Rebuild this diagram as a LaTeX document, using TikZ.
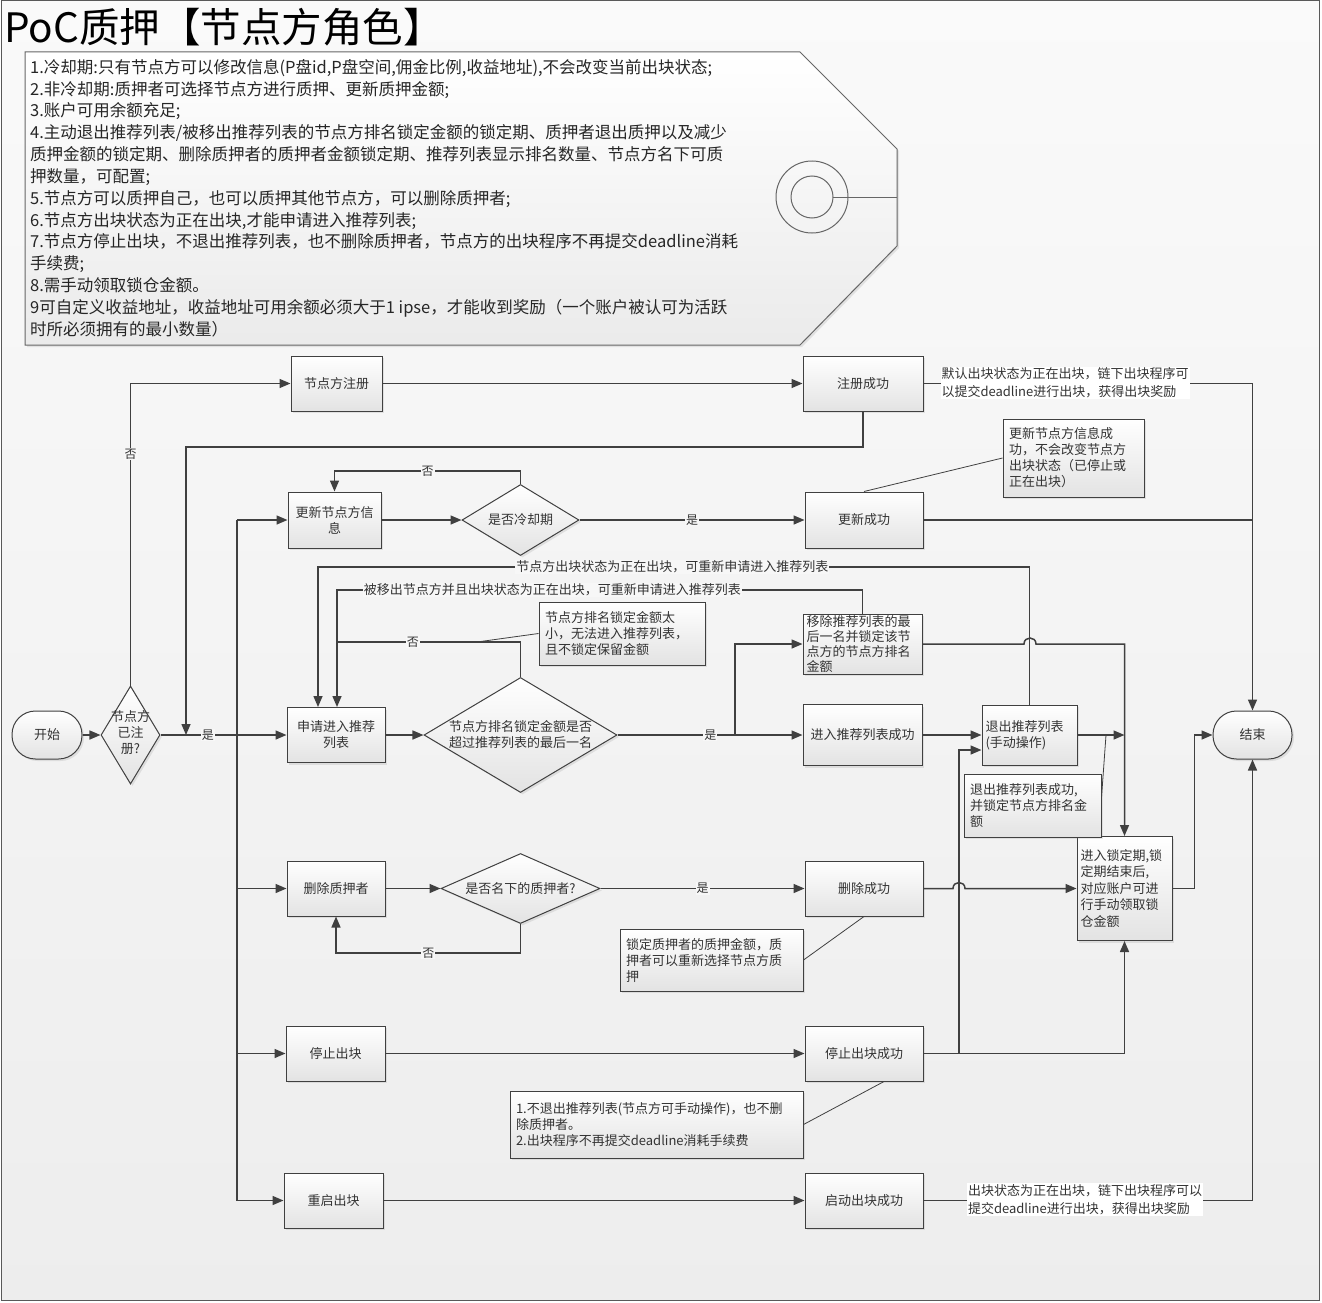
\documentclass[tikz,border=0pt]{standalone}
\usepackage{fontspec}
\setmainfont{Noto Sans CJK SC}
\usetikzlibrary{arrows.meta,shapes.geometric,shadows}
\definecolor{lc}{HTML}{404040}
\definecolor{txt}{HTML}{333333}
\definecolor{bgc}{HTML}{F7F7F7}
\begin{document}
\begin{tikzpicture}[x=1pt,y=-1pt,
  line/.style={draw=lc, line width=1.5pt},
  arr/.style={line, -{Triangle[length=11pt,width=9pt]}},
  thinln/.style={draw=lc, line width=0.8pt},
  shd/.style={drop shadow={shadow xshift=2pt, shadow yshift=-2pt, opacity=0.18}},
  shadefill/.style={top color=white, bottom color=black!11},
  bx/.style 2 args={rectangle, draw=lc, line width=1pt, shadefill, shd,
    text=txt, font=\fontsize{13}{16}\selectfont, align=center, inner sep=2pt,
    minimum width=#1pt, minimum height=#2pt},
  term/.style 2 args={rectangle, rounded corners=23.5pt, draw=lc, line width=1pt,
    shadefill, shd, text=txt, font=\fontsize{13}{16}\selectfont,
    minimum width=#1pt, minimum height=#2pt},
  dia/.style 2 args={diamond, draw=lc, line width=1pt, shadefill, shd,
    inner sep=0pt, minimum width=#1pt, minimum height=#2pt},
  dtxt/.style={text=txt, font=\fontsize{13}{16}\selectfont, align=center, inner sep=0pt},
  note/.style 2 args={rectangle, draw=lc, line width=1pt, shadefill, shd,
    text=txt, font=\fontsize{13}{16}\selectfont, align=left,
    inner xsep=6pt, inner ysep=3pt, text width=#1pt, minimum height=#2pt},
  wnote/.style={fill=white, text=txt, font=\fontsize{13}{18}\selectfont,
    align=left, inner sep=1pt},
  lbl/.style={fill=bgc, text=txt, font=\fontsize{12}{12}\selectfont, inner sep=1pt},
  lbll/.style={lbl, font=\fontsize{13}{13}\selectfont}
]
\useasboundingbox (0,0) rectangle (1322,1303);
% sheet
\shade[top color=white!98!black, bottom color=black!7] (1,1) rectangle (1319,1300);
\draw[black!65, line width=1pt] (1,1) rectangle (1319,1300);

% title
\node[anchor=west, inner sep=0pt, font=\fontsize{40.5}{40.5}\selectfont, text=black] (title) at (4,27)
  {PoC质押【节点方角色】};

% rules tag
\draw[draw=black!60, line width=1pt, top color=white, bottom color=black!8, shd]
  (25,52) -- (800,52) -- (897,149) -- (897,246) -- (800,345) -- (25,345) -- cycle;
\draw[black!60, line width=1pt] (812,197) circle[radius=36pt];
\draw[black!60, line width=1pt] (812,197) circle[radius=21pt];
\draw[black!60, line width=1pt] (833,197) -- (897,197);
\node[anchor=north west, inner sep=0pt, align=left, text=black!85,
  font=\fontsize{16.5}{21.83}\selectfont] (rules) at (30,59) {%
1.冷却期:只有节点方可以修改信息(P盘id,P盘空间,佣金比例,收益地址),不会改变当前出块状态;\\
2.非冷却期:质押者可选择节点方进行质押、更新质押金额;\\
3.账户可用余额充足;\\
4.主动退出推荐列表/被移出推荐列表的节点方排名锁定金额的锁定期、质押者退出质押以及减少\\
质押金额的锁定期、删除质押者的质押者金额锁定期、推荐列表显示排名数量、节点方名下可质\\
押数量，可配置;\\
5.节点方可以质押自己，也可以质押其他节点方，可以删除质押者;\\
6.节点方出块状态为正在出块,才能申请进入推荐列表;\\
7.节点方停止出块，不退出推荐列表，也不删除质押者，节点方的出块程序不再提交deadline消耗\\
手续费;\\
8.需手动领取锁仓金额。\\
9可自定义收益地址，收益地址可用余额必须大于1 ipse，才能收到奖励（一个账户被认可为活跃\\
时所必须拥有的最小数量）};

% flow nodes
\node[term={70}{48}] (start) at (47,735) {开始};
\node[dia={59}{98}] (dreg) at (130.5,735) {};
\node[dtxt] (dregT) at (130.5,733) {节点方\\已注\\册?};
\node[bx={91}{55}] (reg) at (336.5,383.5) {节点方注册};
\node[bx={120}{55}] (regok) at (863,383.5) {注册成功};
\node[bx={93}{56}] (upd) at (334.5,520) {更新节点方信\\息};
\node[dia={117}{71}] (dcool) at (520.5,520) {};
\node[dtxt] (dcoolT) at (dcool) {是否冷却期};
\node[bx={118}{56}] (updok) at (864,520) {更新成功};
\node[bx={98}{55}] (apply) at (336,735) {申请进入推荐\\列表};
\node[dia={193}{115}] (drank) at (520.5,735) {};
\node[dtxt] (drankT) at (drank) {节点方排名锁定金额是否\\超过推荐列表的最后一名};
\node[bx={119}{60}, font=\fontsize{13}{15}\selectfont, align=left, text width=112pt, inner sep=1pt]
  (remove) at (862.5,644) {移除推荐列表的最\\后一名并锁定该节\\点方的节点方排名\\金额};
\node[bx={119}{61}] (enter) at (862.5,735) {进入推荐列表成功};
\node[bx={95}{60}, align=left, text width=88pt] (quit) at (1029.5,735) {退出推荐列表\\(手动操作)};
\node[bx={95}{104}, align=left, text width=88pt, font=\fontsize{13}{16.5}\selectfont]
  (lock) at (1124.5,888.5) {进入锁定期,锁\\定期结束后,\\对应账户可进\\行手动领取锁\\仓金额};
\node[term={79}{48}] (end) at (1252.5,735) {结束};
\node[bx={98}{55}] (del) at (336,888.5) {删除质押者};
\node[dia={159}{70}] (dmine) at (520.5,888.5) {};
\node[dtxt] (dmineT) at (dmine) {是否名下的质押者?};
\node[bx={118}{55}] (delok) at (864,888.5) {删除成功};
\node[bx={99}{55}] (stop) at (335.5,1053.5) {停止出块};
\node[bx={118}{55}] (stopok) at (864,1053.5) {停止出块成功};
\node[bx={99}{55}] (restart) at (333.5,1200.5) {重启出块};
\node[bx={118}{55}] (restartok) at (864,1200.5) {启动出块成功};

% bordered notes
\node[note={129}{78}] (updnote) at (1073.5,458) {更新节点方信息成\\功，不会改变节点方\\出块状态（已停止或\\正在出块）};
\node[note={154}{63}] (ranknote) at (622,633.5) {节点方排名锁定金额太\\小，无法进入推荐列表，\\且不锁定保留金额};
\node[note={125}{63}] (quitnote) at (1032.5,805.5) {退出推荐列表成功,\\并锁定节点方排名金\\额};
\node[note={171}{62}] (delnote) at (711.5,960) {锁定质押者的质押金额，质\\押者可以重新选择节点方质\\押};
\node[note={281}{67}] (stopnote) at (656.5,1124.5) {1.不退出推荐列表(节点方可手动操作)，也不删\\除质押者。\\2.出块程序不再提交deadline消耗手续费};

% junction points
\coordinate (tU) at (237,520);
\coordinate (tM) at (237,735);
\coordinate (tD) at (237,888.5);
\coordinate (tS) at (237,1053.5);
\coordinate (tR) at (237,1200.5);
\coordinate (loopc) at (186,447);
\coordinate (jr) at (186,735);
\coordinate (nj) at (337,642);
\coordinate (rjB) at (337,590);
\coordinate (rjA) at (318,567);
\coordinate (fork) at (735,735);
\coordinate (qj) at (1124.5,735);
\coordinate (sj) at (959,1053.5);
\coordinate (nc) at (477,642);

% start and registration
\draw[arr] (start) -- (dreg);
\draw[arr] (dreg.north) |- node[lbl, pos=0.383] (noA) {否} (reg.west);
\draw[line, line width=2.5pt] (dreg.east) -- node[lbl, pos=0.62] (yesA) {是} (tM);
\draw[line] (tU) -- (tR);
\draw[arr] (tU) -- (upd.west);
\draw[arr] (tM) -- (apply.west);
\draw[arr] (tD) -- (del.west);
\draw[arr] (tS) -- (stop.west);
\draw[arr] (tR) -- (restart.west);
\draw[arr] (reg) -- (regok);
\draw[arr] (regok.east) -| (end.north);
\draw[arr] (regok.south) |- (loopc) -- (jr);

% update branch
\draw[arr] (upd) -- (dcool);
\draw[arr] (dcool.north) -- ++(0,-13) -| node[lbl, pos=0.25] (noB) {否} (upd.north);
\draw[arr] (dcool) -- node[lbl] (yesB) {是} (updok);
\draw[line] (updok.east) -- (end.north |- updok.east);
\draw[thinln] (updnote.west) -- (updok.north);

% recommendation list branch
\draw[arr] (apply) -- (drank);
\draw[line] (drank.north) |- node[lbl, pos=0.793] (noC) {否} (nj);
\draw[arr] (remove.north) |- node[lbll, pos=0.795] (reB) {被移出节点方并且出块状态为正在出块，可重新申请进入推荐列表} (rjB)
  -- ([xshift=1pt]apply.north);
\draw[arr] (quit.north) |- node[lbll, pos=0.751] (reA) {节点方出块状态为正在出块，可重新申请进入推荐列表} (rjA)
  -- ([xshift=-18pt]apply.north);
\draw[thinln] (ranknote.west) -- (nc);
\draw[line] (drank.east) -- node[lbl, pos=0.79] (yesC) {是} (fork);
\draw[arr] (fork) -- (enter.west);
\draw[arr] (fork) |- (remove.west);
\draw[arr] (remove.east) -- (1024,644) .. controls (1024,636) and (1036,636) .. (1036,644) -| (lock.north);
\draw[arr] (enter) -- (quit);
\draw[arr] (quit.east) -- (qj);
\draw[thinln] (1106,735) -- ([yshift=8pt]quitnote.east);
\draw[arr] (lock.east) -- ++(22,0) |- (end.west);

% delete branch
\draw[arr] (del) -- (dmine);
\draw[arr] (dmine.south) -- ++(0,29) -| node[lbl, pos=0.25] (noD) {否} (del.south);
\draw[arr] (dmine) -- node[lbl] (yesD) {是} (delok);
\draw[arr] (delok.east) -- (953,888.5) .. controls (953,880.5) and (965,880.5) .. (965,888.5) -- (lock.west);
\draw[thinln] (delnote.east) -- (delok.south);

% stop branch
\draw[arr] (stop) -- (stopok);
\draw[arr] (stopok.east) -- (sj) |- ([yshift=-15pt]quit.west);
\draw[arr] (sj) -| (lock.south);
\draw[thinln] (stopnote.east) -- ([xshift=20pt]stopok.south);

% restart branch
\draw[arr] (restart) -- (restartok);
\draw[arr] (restartok.east) -| (end.south);

% texts lying on connectors
\node[wnote] (regnote) at (1065,383) {默认出块状态为正在出块，链下出块程序可\\以提交deadline进行出块，获得出块奖励};
\node[wnote] (runnote) at (1085,1199.5) {出块状态为正在出块，链下出块程序可以\\提交deadline进行出块，获得出块奖励};
\end{tikzpicture}
\end{document}
